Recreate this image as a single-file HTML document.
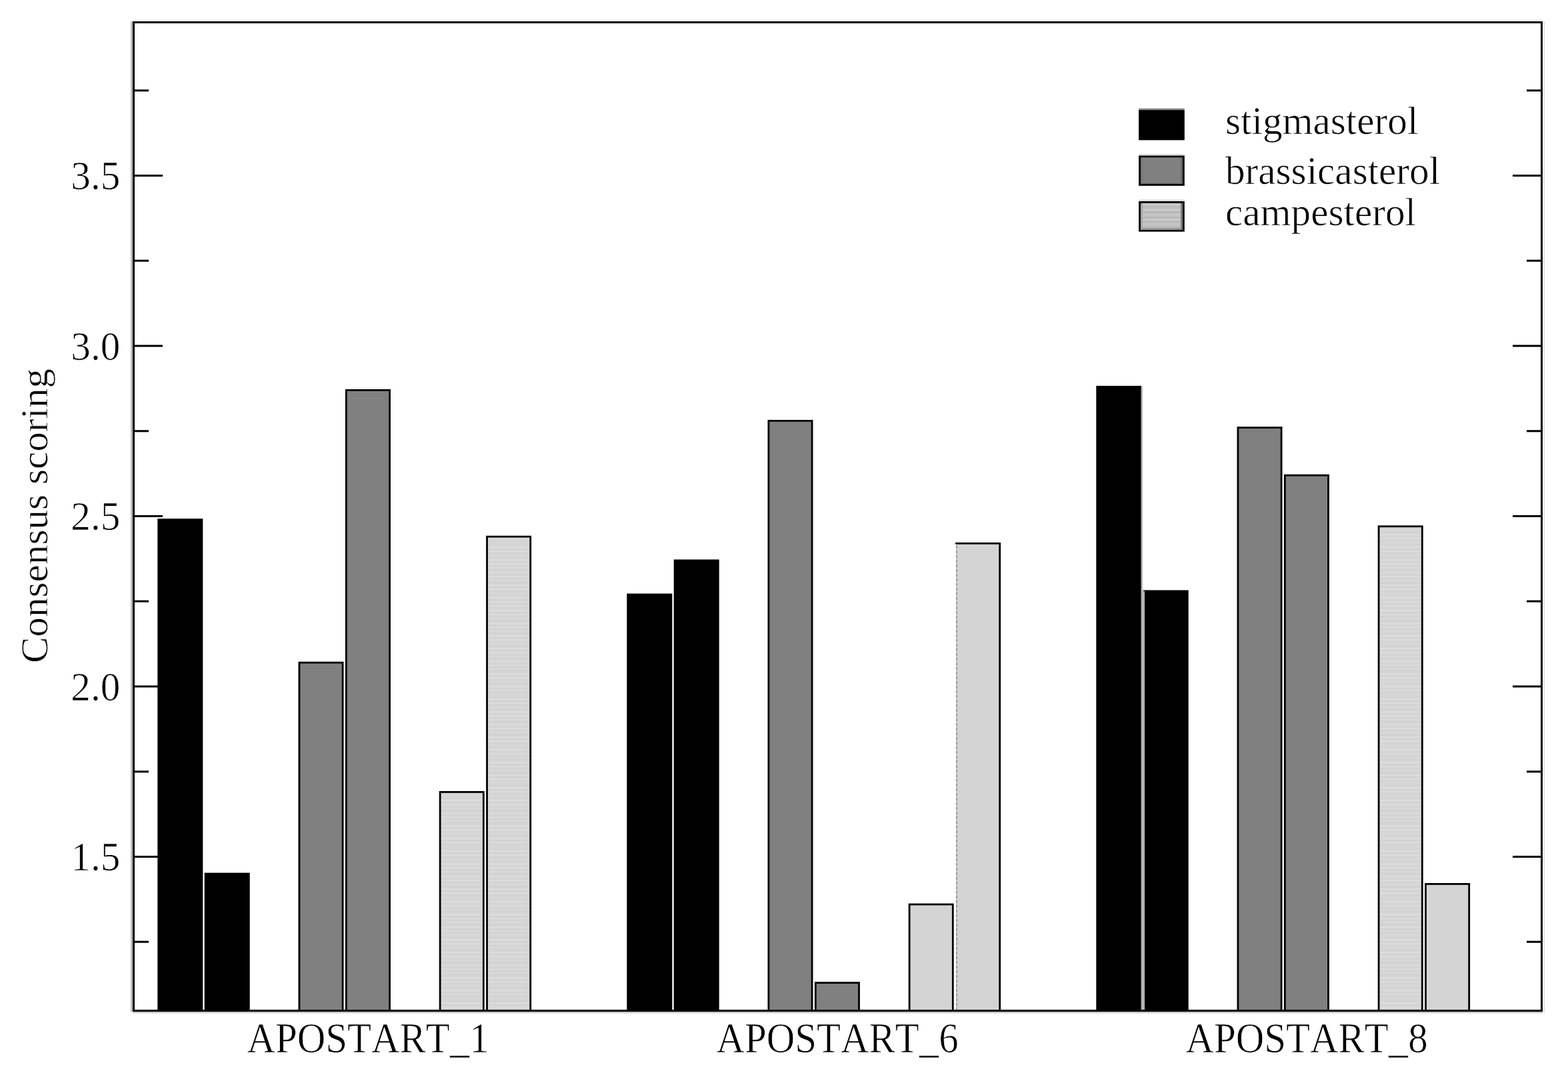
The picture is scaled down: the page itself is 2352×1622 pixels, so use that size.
<!DOCTYPE html>
<html lang="en">
<head>
<meta charset="utf-8">
<title>Consensus scoring</title>
<style>
html,body{margin:0;padding:0;background:#fff;}
body{width:2352px;height:1622px;overflow:hidden;}
svg{display:block;filter:blur(0.7px);}
text{font-family:"Liberation Serif","DejaVu Serif",serif;font-size:59.2px;fill:#000;font-kerning:none;stroke:#fff;stroke-width:0.7px;paint-order:fill stroke;}
</style>
</head>
<body>

<svg role="img" aria-label="Consensus scoring bar chart" width="2352" height="1622" viewBox="0 0 2352 1622">
<rect x="0" y="0" width="2352" height="1622" fill="#fff"/>
<defs><pattern id="stripes" x="0" y="0" width="8" height="19" patternUnits="userSpaceOnUse"><rect x="0" y="0" width="8" height="19" fill="#d4d4d4"/><rect x="0" y="3" width="8" height="2.4" fill="#dddddd"/><rect x="0" y="9" width="8" height="2.4" fill="#dcdcdc"/><rect x="0" y="15" width="8" height="2" fill="#d9d9d9"/></pattern></defs>
<g stroke="#000" stroke-width="2.8" stroke-linejoin="miter">
<rect x="237.7" y="779.6" width="65.2" height="736.9" fill="#000"/>
<rect x="308.1" y="1311.0" width="65.2" height="205.5" fill="#000"/>
<rect x="941.7" y="892.0" width="65.2" height="624.5" fill="#000"/>
<rect x="1012.1" y="840.9" width="65.2" height="675.6" fill="#000"/>
<rect x="1645.7" y="580.3" width="65.2" height="936.2" fill="#000"/>
<rect x="1716.1" y="886.9" width="65.2" height="629.6" fill="#000"/>
<rect x="448.9" y="994.2" width="65.2" height="522.3" fill="#808080"/>
<rect x="519.3" y="585.4" width="65.2" height="931.1" fill="#808080"/>
<rect x="1152.9" y="631.4" width="65.2" height="885.1" fill="#808080"/>
<rect x="1223.3" y="1474.6" width="65.2" height="41.9" fill="#808080"/>
<rect x="1856.9" y="641.6" width="65.2" height="874.9" fill="#808080"/>
<rect x="1927.3" y="713.2" width="65.2" height="803.3" fill="#808080"/>
<rect x="660.1" y="1188.4" width="65.2" height="328.1" fill="url(#stripes)"/>
<rect x="730.5" y="805.2" width="65.2" height="711.3" fill="url(#stripes)"/>
<rect x="1364.1" y="1357.0" width="65.2" height="159.5" fill="#d4d4d4"/>
<rect x="1434.5" y="815.4" width="65.2" height="701.1" fill="#d4d4d4" stroke="none"/>
<path d="M1435.0 1516.5V815.4" fill="none" stroke="#9a9a9a" stroke-width="2" stroke-dasharray="5 2"/>
<path d="M1433.1 815.4H1499.7V1516.5" fill="none"/>
<rect x="2068.1" y="789.8" width="65.2" height="726.7" fill="url(#stripes)"/>
<rect x="2138.5" y="1326.4" width="65.2" height="190.1" fill="#d4d4d4"/>
</g>
<rect x="1711.6" y="580.3" width="2.6" height="306.6" fill="#bdbdbd"/>
<rect x="1711.6" y="886.9" width="5.4" height="629.6" fill="#b4b4b4"/>
<g stroke="none">
<rect x="196" y="32" width="3" height="1486" fill="#bcbcbc"/>
<rect x="199" y="29.3" width="2115" height="2.7" fill="#efefef"/>
<rect x="2315.2" y="32" width="1.8" height="1488" fill="#e2e2e2"/>
<rect x="199" y="1518" width="2115" height="2.3" fill="#c8c8c8"/>
</g>
<rect x="200.5" y="33.5" width="2112.0" height="1483.0" fill="none" stroke="#000" stroke-width="3"/>
<g stroke="#000" stroke-width="3">
<line x1="200.5" y1="1413.2" x2="223.0" y2="1413.2"/>
<line x1="2312.5" y1="1413.2" x2="2290.0" y2="1413.2"/>
<line x1="200.5" y1="1285.5" x2="244.0" y2="1285.5"/>
<line x1="2312.5" y1="1285.5" x2="2269.0" y2="1285.5"/>
<line x1="200.5" y1="1157.8" x2="223.0" y2="1157.8"/>
<line x1="2312.5" y1="1157.8" x2="2290.0" y2="1157.8"/>
<line x1="200.5" y1="1030.0" x2="244.0" y2="1030.0"/>
<line x1="2312.5" y1="1030.0" x2="2269.0" y2="1030.0"/>
<line x1="200.5" y1="902.2" x2="223.0" y2="902.2"/>
<line x1="2312.5" y1="902.2" x2="2290.0" y2="902.2"/>
<line x1="200.5" y1="774.5" x2="244.0" y2="774.5"/>
<line x1="2312.5" y1="774.5" x2="2269.0" y2="774.5"/>
<line x1="200.5" y1="646.8" x2="223.0" y2="646.8"/>
<line x1="2312.5" y1="646.8" x2="2290.0" y2="646.8"/>
<line x1="200.5" y1="519.0" x2="244.0" y2="519.0"/>
<line x1="2312.5" y1="519.0" x2="2269.0" y2="519.0"/>
<line x1="200.5" y1="391.2" x2="223.0" y2="391.2"/>
<line x1="2312.5" y1="391.2" x2="2290.0" y2="391.2"/>
<line x1="200.5" y1="263.5" x2="244.0" y2="263.5"/>
<line x1="2312.5" y1="263.5" x2="2269.0" y2="263.5"/>
<line x1="200.5" y1="135.8" x2="223.0" y2="135.8"/>
<line x1="2312.5" y1="135.8" x2="2290.0" y2="135.8"/>
</g>
<text transform="translate(180.3,1306.3) scale(1,1.035)" text-anchor="end">1.5</text>
<text transform="translate(180.3,1050.8) scale(1,1.035)" text-anchor="end">2.0</text>
<text transform="translate(180.3,795.3) scale(1,1.035)" text-anchor="end">2.5</text>
<text transform="translate(180.3,539.8) scale(1,1.035)" text-anchor="end">3.0</text>
<text transform="translate(180.3,284.3) scale(1,1.035)" text-anchor="end">3.5</text>
<text transform="translate(552.1,1578.8) scale(0.995,1.055)" text-anchor="middle">APOSTART_1</text>
<text transform="translate(1256.1,1578.8) scale(0.995,1.055)" text-anchor="middle">APOSTART_6</text>
<text transform="translate(1960.1,1578.8) scale(0.995,1.055)" text-anchor="middle">APOSTART_8</text>
<text transform="translate(70.8,774.0) rotate(-90) scale(1,0.95)" text-anchor="middle">Consensus scoring</text>
<rect x="1709.6" y="166.2" width="65.7" height="42.6" fill="#000" stroke="#000" stroke-width="3"/>
<text x="1838" y="201.3">stigmasterol</text>
<rect x="1709.6" y="234.7" width="65.7" height="42.6" fill="#808080" stroke="#000" stroke-width="3"/>
<rect x="1711.1" y="236.6" width="2.9" height="38" fill="#777777"/>
<rect x="1771.1" y="236.6" width="2.8" height="38" fill="#666666"/>
<text x="1838" y="275.5">brassicasterol</text>
<rect x="1709.6" y="303.5" width="65.7" height="42.6" fill="#c2c2c2" stroke="#000" stroke-width="3"/>
<rect x="1711.1" y="304.9" width="62.8" height="3.1" fill="#cacaca"/>
<rect x="1711.1" y="308.0" width="62.8" height="5.7" fill="#bebebe"/>
<rect x="1711.1" y="313.7" width="62.8" height="3.1" fill="#cccccc"/>
<rect x="1711.1" y="316.8" width="62.8" height="3.1" fill="#b6b6b6"/>
<rect x="1711.1" y="319.9" width="62.8" height="5.2" fill="#c4c4c4"/>
<rect x="1711.1" y="325.1" width="62.8" height="3.1" fill="#b8b8b8"/>
<rect x="1711.1" y="328.2" width="62.8" height="2.9" fill="#cccccc"/>
<rect x="1711.1" y="331.1" width="62.8" height="2.8" fill="#b8b8b8"/>
<rect x="1711.1" y="333.9" width="62.8" height="5.2" fill="#c4c4c4"/>
<rect x="1711.1" y="339.1" width="62.8" height="2.8" fill="#bcbcbc"/>
<rect x="1711.1" y="341.9" width="62.8" height="2.8" fill="#9a9a9a"/>
<rect x="1711.1" y="304.9" width="2.9" height="39.8" fill="#a8a8a8"/>
<rect x="1771.1" y="304.9" width="2.8" height="39.8" fill="#777777"/>
<text x="1838" y="337.9">campesterol</text>
<rect x="1708.1" y="162.6" width="68.6" height="2.6" fill="#8a8a8a"/>
<rect x="1708.1" y="231.0" width="68.6" height="2.4" fill="#dcdcdc"/>
<rect x="1708.1" y="299.4" width="68.6" height="2.6" fill="#dddddd"/>
</svg>
</body>
</html>
